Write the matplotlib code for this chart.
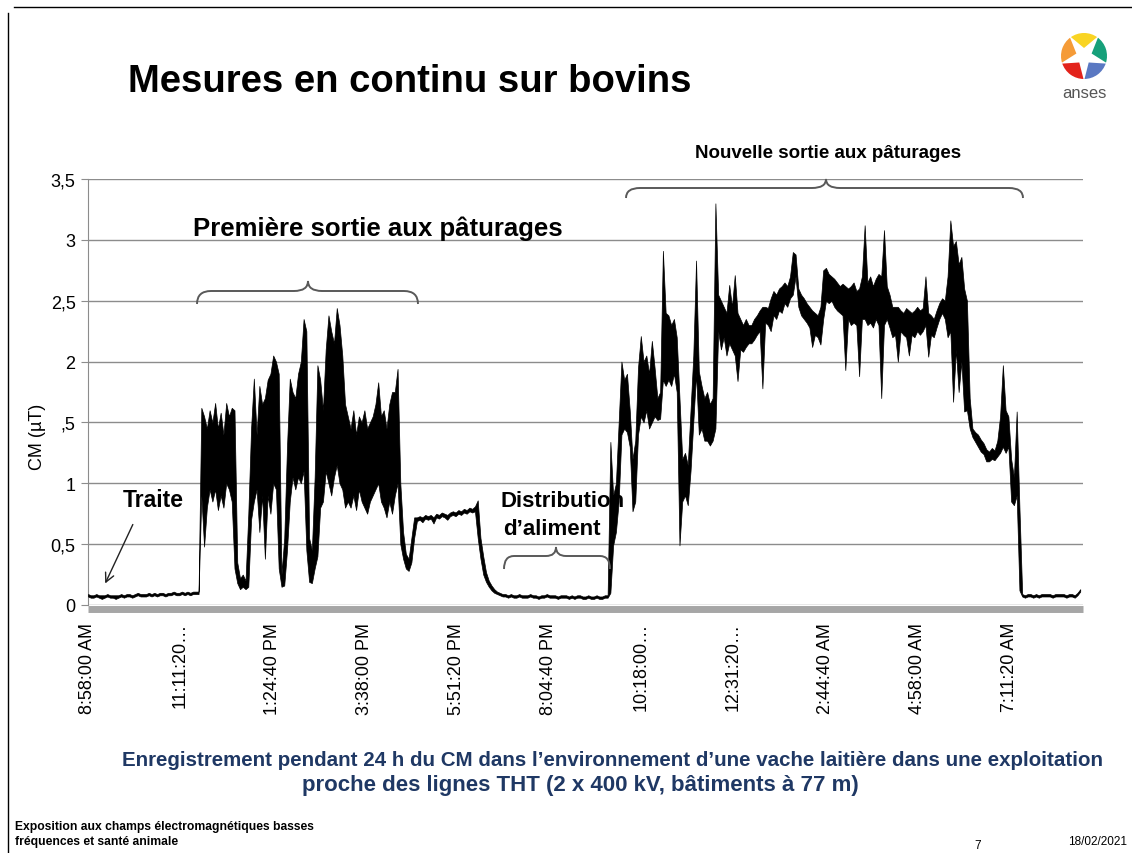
import numpy as np
import matplotlib.pyplot as plt
from matplotlib.path import Path
from matplotlib.patches import PathPatch, Wedge, Polygon

plt.rcParams['font.family'] = ['Liberation Sans', 'DejaVu Sans']

# --- data: highest / lowest reading in each 4-minute window from 8:58 AM ---
SAMPLE_MIN = 4
cm_max = [
    # traite (matin)
    0.09, 0.08, 0.08, 0.09, 0.08, 0.08, 0.08, 0.09, 0.08, 0.08,
    0.08, 0.08, 0.09, 0.08, 0.09, 0.09, 0.08, 0.09, 0.10, 0.09,
    0.09, 0.09, 0.10, 0.09, 0.10, 0.09, 0.10, 0.10, 0.09, 0.10,
    0.10, 0.11, 0.10, 0.10, 0.11, 0.10, 0.11, 0.10, 0.11, 0.11, 0.11,
    # premiere sortie
    1.62, 1.55, 1.45, 1.60, 1.50, 1.66, 1.45, 1.58, 1.40, 1.66, 1.55, 1.62, 1.60,
    0.35, 0.22, 0.25, 0.20, 0.75,
    1.45, 1.86, 1.40, 1.80, 1.65, 1.70, 1.85, 1.90, 2.05, 2.00, 1.90,
    0.25, 0.55,
    1.30, 1.86, 1.75, 1.70, 1.90, 2.00, 2.35, 2.25,
    0.55, 0.45,
    1.05, 1.97, 1.85, 1.60, 2.10, 2.38, 2.25, 2.15, 2.44, 2.30, 2.05, 1.65,
    1.55, 1.45, 1.60, 1.40, 1.55, 1.50, 1.60, 1.45, 1.50, 1.55,
    1.65, 1.83, 1.55, 1.60, 1.45, 1.65, 1.75, 1.75, 1.94,
    1.00, 0.60, 0.42, 0.38, 0.55, 0.72,
    # palier
    0.72, 0.73, 0.72, 0.74, 0.73, 0.74, 0.72, 0.75, 0.74, 0.76,
    0.75, 0.74, 0.76, 0.77, 0.76, 0.78, 0.77, 0.79, 0.78, 0.80,
    0.79, 0.81, 0.86,
    0.55, 0.40, 0.27, 0.20, 0.16, 0.13, 0.11,
    # distribution d'aliment
    0.10, 0.09, 0.09, 0.08, 0.09, 0.08, 0.08, 0.09, 0.08, 0.08,
    0.08, 0.09, 0.08, 0.08, 0.07, 0.08, 0.08, 0.09, 0.08, 0.08,
    0.08, 0.07, 0.08, 0.08, 0.08, 0.07, 0.08, 0.07, 0.08, 0.08,
    0.07, 0.07, 0.08, 0.07, 0.07, 0.08, 0.07, 0.07, 0.08, 0.08,
    # nouvelle sortie
    1.34, 0.90, 1.00,
    1.50, 2.00, 1.85, 1.90, 1.60,
    1.20, 1.35,
    1.95, 2.21, 2.00, 2.05, 1.90, 2.17, 1.95,
    1.70, 1.75,
    2.91, 2.40, 2.38, 2.30, 2.35, 2.20,
    1.70,
    1.20, 1.25, 1.15,
    1.60, 2.05, 2.83,
    1.92, 1.80, 1.70, 1.75, 1.65, 1.70,
    3.30,
    2.55, 2.50, 2.45, 2.40, 2.63, 2.45, 2.71, 2.40, 2.35, 2.30, 2.35, 2.30,
    2.30, 2.35, 2.38, 2.42, 2.45, 2.45, 2.44,
    2.52, 2.58, 2.55, 2.60, 2.62, 2.65, 2.62, 2.70,
    2.90, 2.88,
    2.60, 2.55, 2.52, 2.48, 2.45, 2.42, 2.40, 2.38, 2.45, 2.75,
    2.77, 2.72, 2.70, 2.68, 2.65, 2.62, 2.64,
    2.62, 2.60, 2.62, 2.65, 2.58, 2.60, 2.70,
    3.12,
    2.65, 2.70, 2.62, 2.68, 2.72, 2.70, 3.08, 2.62, 2.55, 2.45, 2.45,
    2.45, 2.42, 2.40, 2.44, 2.42, 2.40, 2.42, 2.45, 2.42, 2.44, 2.70,
    2.40,
    2.38, 2.35, 2.42, 2.48, 2.52, 2.50,
    2.70, 3.16, 2.95, 2.99, 2.80, 2.86, 2.60, 2.50, 1.70,
    1.45, 1.42, 1.40, 1.36, 1.33, 1.28, 1.26, 1.29, 1.27, 1.35, 1.55,
    1.97, 1.60, 1.55,
    1.20, 1.05, 1.59, 0.80,
    # traite (matin suivant)
    0.09, 0.08, 0.09, 0.09, 0.08, 0.09, 0.08, 0.09, 0.09, 0.09,
    0.09, 0.08, 0.09, 0.09, 0.09, 0.09, 0.08, 0.09, 0.09, 0.08,
    0.10, 0.13,
]
cm_min = [
    # traite (matin)
    0.07, 0.06, 0.06, 0.07, 0.06, 0.05, 0.06, 0.07, 0.06, 0.06,
    0.05, 0.06, 0.07, 0.06, 0.07, 0.07, 0.06, 0.07, 0.08, 0.07,
    0.07, 0.07, 0.08, 0.07, 0.08, 0.07, 0.08, 0.08, 0.07, 0.08,
    0.08, 0.09, 0.08, 0.08, 0.09, 0.08, 0.09, 0.08, 0.09, 0.09, 0.09,
    # premiere sortie
    0.90, 0.48, 0.80, 0.95, 0.85, 0.95, 0.78, 0.90, 0.80, 1.00, 0.95, 0.85, 0.30,
    0.18, 0.13, 0.15, 0.13, 0.15,
    0.70, 0.85, 0.95, 0.60, 0.90, 0.38, 0.90, 0.75, 1.00, 0.95, 0.30,
    0.15, 0.16,
    0.45, 0.85, 1.05, 0.95, 1.05, 1.00, 1.10, 0.45,
    0.19, 0.18,
    0.30, 0.40, 0.80, 0.85, 1.10, 1.00, 0.90, 1.05, 1.15, 1.00, 0.95, 0.80,
    0.85, 0.80, 0.90, 0.78, 0.95, 0.85, 0.80, 0.75, 0.85, 0.90,
    0.95, 1.00, 0.85, 0.80, 0.72, 0.85, 0.75, 0.90, 1.00,
    0.50, 0.38, 0.30, 0.28, 0.35, 0.55,
    # palier
    0.69, 0.70, 0.68, 0.71, 0.70, 0.71, 0.67, 0.72, 0.71, 0.73,
    0.72, 0.70, 0.73, 0.74, 0.73, 0.75, 0.74, 0.76, 0.75, 0.77,
    0.76, 0.77, 0.55,
    0.38, 0.25, 0.19, 0.15, 0.12, 0.10, 0.09,
    # distribution d'aliment
    0.08, 0.07, 0.07, 0.06, 0.07, 0.06, 0.06, 0.07, 0.06, 0.06,
    0.06, 0.07, 0.06, 0.06, 0.05, 0.06, 0.06, 0.07, 0.06, 0.06,
    0.06, 0.05, 0.06, 0.06, 0.06, 0.05, 0.06, 0.05, 0.06, 0.06,
    0.05, 0.05, 0.06, 0.05, 0.05, 0.06, 0.05, 0.05, 0.06, 0.06,
    # nouvelle sortie
    0.10, 0.49, 0.60,
    0.85, 1.40, 1.45, 1.42, 1.30,
    0.77, 0.85,
    1.40, 1.55, 1.50, 1.60, 1.45, 1.50, 1.55,
    1.52, 1.53,
    1.85, 1.80, 1.85, 1.80, 1.90, 1.75,
    0.49,
    0.85, 0.90, 0.82,
    1.10, 1.50, 1.90,
    1.40, 1.45, 1.35, 1.35, 1.31, 1.35,
    1.45,
    2.25, 2.10, 2.20, 2.05, 2.15, 2.10, 2.05, 1.84, 2.10, 2.08, 2.12, 2.15,
    2.15, 2.18, 2.22, 2.25, 1.78, 2.32, 2.30,
    2.25, 2.38, 2.35, 2.42, 2.40, 2.48, 2.45, 2.52,
    2.55, 2.70,
    2.45, 2.38, 2.35, 2.32, 2.28, 2.12, 2.22, 2.20, 2.14, 2.35,
    2.50, 2.48, 2.50, 2.45, 2.42, 2.40, 2.38,
    1.93, 2.35, 2.30, 2.32, 2.30, 1.88, 2.35,
    2.35,
    2.30, 2.32, 2.28, 2.35, 2.30, 1.70, 2.30, 2.35, 2.28, 2.20, 2.22,
    2.00, 2.25, 2.22, 2.20, 2.05, 2.22, 2.20, 2.25, 2.22, 2.25, 2.30,
    2.04,
    2.22, 2.20, 2.28, 2.35, 2.40, 2.35,
    2.20, 2.25, 1.67, 2.10, 1.75, 2.00, 1.59, 1.60, 1.45,
    1.38, 1.34, 1.30, 1.26, 1.24, 1.18, 1.18, 1.20, 1.19, 1.22, 1.25,
    1.30, 1.25, 1.30,
    0.85, 0.82, 0.90, 0.12,
    # traite (matin suivant)
    0.07, 0.06, 0.07, 0.07, 0.06, 0.07, 0.06, 0.07, 0.07, 0.07,
    0.07, 0.06, 0.07, 0.07, 0.07, 0.07, 0.06, 0.07, 0.07, 0.06,
    0.08, 0.11,
]

time_labels = ['8:58:00 AM', '11:11:20…', '1:24:40 PM', '3:38:00 PM',
               '5:51:20 PM', '8:04:40 PM', '10:18:00…', '12:31:20…',
               '2:44:40 AM', '4:58:00 AM', '7:11:20 AM']
TICK_STEP_H = 8000 / 3600  # Excel shows every 8000 s
y_ticks = [0, 0.5, 1, 1.5, 2, 2.5, 3, 3.5]
y_labels = ['0', '0,5', '1', ',5', '2', '2,5', '3', '3,5']

W, H = 1132, 854
NAVY = '#1f3864'


def fx(px):
    return px / W


def fy(py):
    return 1 - py / H


fig = plt.figure(figsize=(W / 100, H / 100), dpi=100)

# --- chart ---
ax = fig.add_axes([fx(88), fy(606), fx(1083) - fx(88), fy(180) - fy(606)])
# spine position first: moving it resets the tick objects
for s in ['top', 'right']:
    ax.spines[s].set_visible(False)
ax.spines['left'].set_color('#8c8c8c')
ax.spines['bottom'].set_color('#a6a6a6')
ax.spines['bottom'].set_linewidth(5)
ax.spines['bottom'].set_capstyle('butt')
ax.spines['bottom'].set_position(('outward', 3))

hours = np.arange(len(cm_max)) * SAMPLE_MIN / 60
ax.fill_between(hours, cm_min, cm_max, facecolor='black', edgecolor='black',
                lw=0.5, zorder=3)
ax.set_xlim(0, 24)
ax.set_ylim(0, 3.5)
ax.set_yticks(y_ticks)
ax.set_yticklabels(y_labels, fontsize=13)
ax.set_xticks(np.arange(len(time_labels)) * TICK_STEP_H)
ax.set_xticklabels(time_labels, fontsize=13)
ax.grid(axis='y', color='#8c8c8c', lw=1)
ax.set_axisbelow(True)
ax.tick_params(axis='y', length=5, color='#8c8c8c', pad=4)
ax.tick_params(axis='x', length=0, pad=9, labelrotation=90)

# --- overlay in pixel coordinates for slide decorations ---
ov = fig.add_axes([0, 0, 1, 1])
ov.set_xlim(0, W)
ov.set_ylim(H, 0)
ov.axis('off')
ov.patch.set_visible(False)


def brace(x0, x1, xm, y_tip, y_line, y_end, r=14):
    verts = [(x0, y_end), (x0, y_line), (x0 + r, y_line),
             (xm - r, y_line), (xm, y_line), (xm, y_tip),
             (xm, y_line), (xm + r, y_line),
             (x1 - r, y_line), (x1, y_line), (x1, y_end)]
    codes = [Path.MOVETO, Path.CURVE3, Path.CURVE3, Path.LINETO,
             Path.CURVE3, Path.CURVE3, Path.CURVE3, Path.CURVE3,
             Path.LINETO, Path.CURVE3, Path.CURVE3]
    ov.add_patch(PathPatch(Path(verts, codes), fill=False,
                           edgecolor='#595959', lw=1.4))


# slide frame
ov.plot([14, W], [8, 8], color='black', lw=1)
ov.plot([8, 8], [14, H], color='black', lw=1)

ov.text(128, 82, 'Mesures en continu sur bovins', fontsize=27.5,
        fontweight='bold', ha='left', va='center')

# anses logo
cx, cy, r = 1084, 57, 23
petals = [(90, '#f9d423'), (18, '#16a07a'), (-54, '#5a78c2'),
          (-126, '#e3231b'), (162, '#f59b37')]
for ang, col in petals:
    ov.add_patch(Wedge((cx, cy), r, -(ang + 36), -(ang - 36), color=col, lw=0))
star = []
for k in range(5):
    a_out = np.radians(90 + 36 + 72 * k)
    a_in = np.radians(90 + 72 * (k + 1))
    star.append((cx + (r + 2) * np.cos(a_out), cy - (r + 2) * np.sin(a_out)))
    star.append((cx + 8 * np.cos(a_in), cy - 8 * np.sin(a_in)))
ov.add_patch(Polygon(star, closed=True, color='white', lw=0))
ov.text(cx, 94, 'anses', fontsize=12, color='#555555', ha='center', va='center')

# y label
ov.text(38, 437, 'CM (µT)', fontsize=13, rotation=90, ha='center', va='center')

# annotations
ov.text(828, 153, 'Nouvelle sortie aux pâturages', fontsize=13.5,
        fontweight='bold', ha='center', va='center')
brace(626, 1023, 826, 180, 189, 199)
ov.text(378, 229, 'Première sortie aux pâturages', fontsize=18.5,
        fontweight='bold', ha='center', va='center')
brace(197, 418, 308, 282, 292, 305)
ov.text(123, 501, 'Traite', fontsize=16.5, fontweight='bold',
        ha='left', va='center')
ov.annotate('', xy=(104, 587), xytext=(134, 523),
            arrowprops=dict(arrowstyle='->', color='#222222', lw=1,
                            mutation_scale=16))
ov.text(501, 502, 'Distribution', fontsize=16, fontweight='bold',
        ha='left', va='center')
ov.text(503, 530, 'd’aliment', fontsize=16, fontweight='bold',
        ha='left', va='center')
brace(504, 610, 556, 548, 557, 570, r=10)

# caption
ov.text(612, 761, 'Enregistrement pendant 24 h du CM dans l’environnement '
        'd’une vache laitière dans une exploitation',
        fontsize=14.8, fontweight='bold', color=NAVY, ha='center', va='center')
ov.text(580, 786, 'proche des lignes THT (2 x 400 kV, bâtiments à 77 m)',
        fontsize=16, fontweight='bold', color=NAVY, ha='center', va='center')

# footer
ov.text(15, 827, 'Exposition aux champs électromagnétiques basses',
        fontsize=8.7, fontweight='bold', ha='left', va='center')
ov.text(15, 842, 'fréquences et santé animale',
        fontsize=8.7, fontweight='bold', ha='left', va='center')
ov.text(978, 846, '7', fontsize=8.5, ha='center', va='center')
ov.text(1068, 842, '18/02/2021', fontsize=8.5, ha='left', va='center')

fig.savefig('out.png', dpi=100)
